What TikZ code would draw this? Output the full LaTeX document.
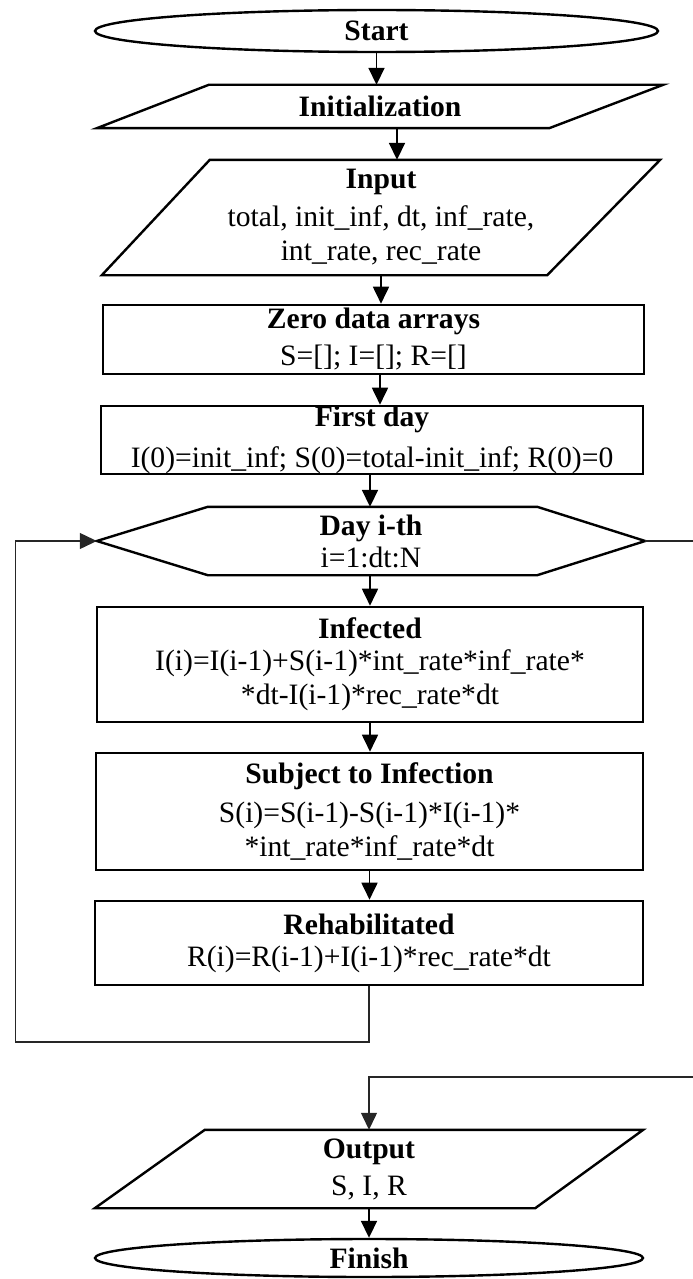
\documentclass[tikz,border=0pt]{standalone}
\usepackage{fontspec}
\setmainfont{Liberation Serif}
\usetikzlibrary{arrows.meta,shapes.geometric}
\begin{document}
\begin{tikzpicture}[x=1pt,y=-1pt,
  every node/.style={font=\fontsize{29.6}{34}\selectfont, align=center, inner sep=0pt},
  outline/.style={draw=black, line width=2.4pt, line join=miter},
  rectbox/.style={rectangle, draw=black, line width=2.6pt},
  frame/.style={rectangle, draw=none},
  tip/.style={-{Triangle[length=17pt,width=16pt]}},
  arr/.style={tip, line width=1.8pt},
  fb/.style={line width=1.2pt, draw=black!85},
]
\useasboundingbox (0,0) rectangle (693,1279);

% Start
\node[ellipse, outline, minimum width=563pt, minimum height=42pt] (start) at (376.5,31) {\textbf{Start}};

% Initialization (parallelogram)
\node[frame, minimum width=566pt, minimum height=43pt] (init) at (380,106.5) {\textbf{Initialization}};
\draw[outline] (init.south west) -- ([xshift=112pt]init.north west) -- (init.north east) -- ([xshift=-114pt]init.south east) -- cycle;

% Input (parallelogram)
\node[frame, minimum width=558pt, minimum height=115pt] (input) at (381,217.5) {\textbf{Input}\\[4pt] total, init\_inf, dt, inf\_rate,\\ int\_rate, rec\_rate};
\draw[outline] (input.south west) -- ([xshift=108pt]input.north west) -- (input.north east) -- ([xshift=-113pt]input.south east) -- cycle;

% Zero data arrays
\node[rectbox, minimum width=541pt, minimum height=69pt] (zero) at (373.5,339.5) {\textbf{Zero data arrays}\\[3pt] S=[]; I=[]; R=[]};

% First day
\node[rectbox, minimum width=542pt, minimum height=68pt] (first) at (372,440) {\textbf{First day}\\[7pt] I(0)=init\_inf; S(0)=total-init\_inf; R(0)=0};

% Day i-th (hexagon)
\node[frame, minimum width=548pt, minimum height=68pt] (day) at (371,541) {\textbf{Day i-th}\\[-2pt] i=1:dt:N};
\draw[outline] (day.west) -- ([xshift=111pt]day.north west) -- ([xshift=-108pt]day.north east) -- (day.east) -- ([xshift=-108pt]day.south east) -- ([xshift=111pt]day.south west) -- cycle;

% Infected
\node[rectbox, minimum width=546pt, minimum height=115pt] (infected) at (370,664.5) {\textbf{Infected}\\[-2pt] I(i)=I(i-1)+S(i-1)*int\_rate*inf\_rate*\\ *dt-I(i-1)*rec\_rate*dt};

% Subject to Infection
\node[rectbox, minimum width=547pt, minimum height=117pt] (subject) at (369.5,811.5) {\textbf{Subject to Infection}\\[5pt] S(i)=S(i-1)-S(i-1)*I(i-1)*\\ *int\_rate*inf\_rate*dt};

% Rehabilitated
\node[rectbox, minimum width=548pt, minimum height=84pt] (rehab) at (369,943) {\textbf{Rehabilitated}\\[-2pt] R(i)=R(i-1)+I(i-1)*rec\_rate*dt};

% Output (parallelogram)
\node[frame, minimum width=548pt, minimum height=78pt] (output) at (369,1169) {\textbf{Output}\\[3pt] S, I, R};
\draw[outline] (output.south west) -- ([xshift=110pt]output.north west) -- (output.north east) -- ([xshift=-108pt]output.south east) -- cycle;

% Finish
\node[ellipse, outline, minimum width=548pt, minimum height=38pt] (finish) at (369,1258) {\textbf{Finish}};

% free ends and corners
\coordinate (rexit) at (693,541);
\coordinate (rentry) at (693,1077);
\coordinate (fbcorner) at (15.5,1042);

% connectors
\draw[arr] (start.south) -- (start.south |- init.north);
\draw[arr] ([xshift=17pt]init.south) -- ([xshift=17pt]init.south |- input.north);
\draw[arr] (input.south) -- (input.south |- zero.north);
\draw[arr] ([xshift=6.5pt]zero.south) -- ([xshift=6.5pt]zero.south |- first.north);
\draw[arr] ([xshift=-2pt]first.south) -- ([xshift=-2pt]first.south |- day.north);
\draw[arr] ([xshift=-1pt]day.south) -- ([xshift=-1pt]day.south |- infected.north);
\draw[arr] (infected.south) -- (infected.south |- subject.north);
\draw[arr] (subject.south) -- (subject.south |- rehab.north);
\draw[fb, tip] (rehab.south) |- (fbcorner) |- (day.west);
\draw[fb] (day.east) -- (rexit);
\draw[fb, tip] (rentry) -| (output.north);
\draw[arr] (output.south) -- (output.south |- finish.north);
\end{tikzpicture}
\end{document}
